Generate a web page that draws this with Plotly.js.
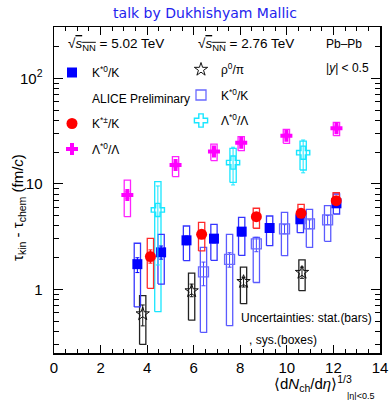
<!DOCTYPE html>
<html>
<head>
<meta charset="utf-8">
<script src="https://cdn.plot.ly/plotly-3.0.1.min.js"></script>
<style>
  html, body { margin: 0; padding: 0; background: #fff; }
  #chart { width: 392px; height: 400px; }
</style>
</head>
<body>
<div id="chart"></div>
<script>
// K*0/K, Pb-Pb 5.02 TeV (filled squares)
const kst0X502 = [3.58, 4.60, 5.69, 6.87, 8.06, 9.26, 10.58, 12.13];
const kst0Y502 = [1.73, 2.24, 2.91, 3.02, 3.52, 3.81, 4.61, 6.53];
const kst0StatHi502 = [1.99, 2.57, 3.20, 3.30, 3.85, 4.15, 5.00, 7.00];
const kst0StatLo502 = [1.44, 1.93, 2.64, 2.75, 3.20, 3.50, 4.25, 6.10];
const kst0SysHi502 = [2.73, 3.32, 3.98, 4.13, 4.80, 4.95, 5.44, 8.00];
const kst0SysLo502 = [0.68, 1.12, 1.87, 1.88, 2.10, 2.59, 3.44, 5.17];

// K*±/K, Pb-Pb 5.02 TeV (filled circles)
const kstChX502 = [4.14, 6.34, 8.69, 10.61, 12.12];
const kstChY502 = [2.04, 3.32, 4.88, 5.25, 6.92];
const kstChStatHi502 = [2.36, 3.60, 5.20, 5.60, 7.35];
const kstChStatLo502 = [1.77, 3.05, 4.55, 4.90, 6.50];
const kstChSysHi502 = [3.04, 4.31, 5.86, 6.39, 8.22];
const kstChSysLo502 = [1.02, 2.31, 3.79, 4.22, 5.98];

// Λ*0/Λ, Pb-Pb 5.02 TeV (filled crosses)
const lamX502 = [3.15, 5.22, 6.87, 8.04, 9.98, 12.13];
const lamY502 = [7.83, 15.1, 20.2, 24.5, 28.6, 33.6];
const lamStatHi502 = [8.4, 16.0, 21.3, 25.8, 30.0, 35.3];
const lamStatLo502 = [7.3, 14.2, 19.1, 23.2, 27.2, 31.9];
const lamSysHi502 = [10.85, 18.1, 23.8, 28.0, 32.8, 38.2];
const lamSysLo502 = [4.88, 11.7, 16.6, 20.6, 24.2, 28.6];

// ρ0/π, Pb-Pb 2.76 TeV (open stars)
const rhoX276 = [3.81, 5.91, 8.14, 10.65];
const rhoY276 = [0.583, 0.964, 1.18, 1.44];
const rhoStatHi276 = [0.71, 1.12, 1.30, 1.62];
const rhoStatLo276 = [0.45, 0.85, 1.05, 1.27];
const rhoSysHi276 = [0.87, 1.42, 1.62, 1.90];
const rhoSysLo276 = [0.30, 0.51, 0.73, 0.97];

// K*0/K, Pb-Pb 2.76 TeV (open squares)
const kst0X276 = [6.42, 7.54, 8.69, 9.90, 10.97, 11.75];
const kst0Y276 = [1.46, 1.92, 2.69, 3.73, 4.16, 4.54];
const kst0StatHi276 = [1.81, 2.22, 3.11, 4.10, 4.55, 5.00];
const kst0StatLo276 = [1.08, 1.62, 2.27, 3.35, 3.75, 4.10];
const kst0SysHi276 = [2.50, 3.32, 3.11, 5.36, 5.72, 6.20];
const kst0SysLo276 = [0.391, 0.452, 1.16, 2.08, 2.50, 2.85];

// Λ*0/Λ, Pb-Pb 2.76 TeV (open crosses)
const lamX276 = [4.46, 7.69, 10.70];
const lamY276 = [5.65, 15.9, 19.7];
const lamStatHi276 = [9.53, 22.2, 26.0];
const lamStatLo276 = [1.70, 9.75, 12.7];
const lamSysHi276 = [10.5, 21.7, 25.4];
const lamSysLo276 = [0.613, 10.3, 13.5];

// axis ticks
const xTickVals = [0, 2, 4, 6, 8, 10, 12, 14];
const yTickVals = [1, 10, 100];
const yTickText = ['1', '10', '10<sup>2</sup>'];
const yMinorVals = [0.3, 0.4, 0.5, 0.6, 0.7, 0.8, 0.9,
                    2, 3, 4, 5, 6, 7, 8, 9,
                    20, 30, 40, 50, 60, 70, 80, 90, 200, 300];

const BOX_HALF = 0.135;   // half width of the systematic boxes, in x units
const FONT = 'Liberation Sans, Arial, sans-serif';

// outline rectangles for systematic uncertainties, one path per point
function sysBoxes(xs, lo, hi, color, width, legend) {
  const bx = [], by = [];
  xs.forEach((x, i) => {
    bx.push(x - BOX_HALF, x + BOX_HALF, x + BOX_HALF, x - BOX_HALF, x - BOX_HALF, null);
    by.push(lo[i], lo[i], hi[i], hi[i], lo[i], null);
  });
  return {
    type: 'scatter', mode: 'lines', x: bx, y: by,
    line: { color: color, width: width || 1.3 },
    hoverinfo: 'skip', showlegend: false, legend: legend
  };
}

function points(name, xs, ys, statHi, statLo, marker, errColor, legend, group) {
  return {
    type: 'scatter', mode: 'markers', name: name, x: xs, y: ys,
    marker: marker,
    error_y: {
      type: 'data', symmetric: false,
      array: ys.map((y, i) => statHi[i] - y),
      arrayminus: ys.map((y, i) => y - statLo[i]),
      color: errColor, thickness: 1, width: 2
    },
    legend: legend, legendgroup: group, cliponaxis: false
  };
}

const traces = [
  sysBoxes(rhoX276, rhoSysLo276, rhoSysHi276, '#222222', 1.3, 'legend2'),
  sysBoxes(kst0X276, kst0SysLo276, kst0SysHi276, '#5a5aff', 1.3, 'legend2'),
  sysBoxes(lamX276, lamSysLo276, lamSysHi276, '#19e6ff', 1.3, 'legend2'),
  sysBoxes(kst0X502, kst0SysLo502, kst0SysHi502, '#3535ff', 1.3, 'legend'),
  sysBoxes(kstChX502, kstChSysLo502, kstChSysHi502, '#ff2a2a', 1.3, 'legend'),
  sysBoxes(lamX502, lamSysLo502, lamSysHi502, '#ff22ff', 1.3, 'legend'),

  points('K<sup>*0</sup>/K', kst0X502, kst0Y502, kst0StatHi502, kst0StatLo502,
         { symbol: 'square', size: 10, color: '#0000ff', line: { width: 0 } },
         '#0000ff', 'legend', 'a'),
  { type: 'scatter', mode: 'markers', name: 'ALICE Preliminary', x: [null], y: [null],
    marker: { size: 0, color: 'rgba(0,0,0,0)', line: { width: 0 } },
    legend: 'legend', legendgroup: 'b', hoverinfo: 'skip' },
  points('K<sup>*±</sup>/K', kstChX502, kstChY502, kstChStatHi502, kstChStatLo502,
         { symbol: 'circle', size: 11, color: '#ff0000', line: { width: 0 } },
         '#ff0000', 'legend', 'c'),
  points('Λ<sup>*0</sup>/Λ', lamX502, lamY502, lamStatHi502, lamStatLo502,
         { symbol: 'cross', size: 10, color: '#ff00ff', line: { width: 0 } },
         '#ff00ff', 'legend', 'd'),

  points('ρ<sup>0</sup>/π', rhoX276, rhoY276, rhoStatHi276, rhoStatLo276,
         { symbol: 'star-open', size: 10, color: '#111111', line: { width: 1 } },
         '#111111', 'legend2', 'e'),
  points('K<sup>*0</sup>/K', kst0X276, kst0Y276, kst0StatHi276, kst0StatLo276,
         { symbol: 'square-open', size: 10, color: '#6a6aff', line: { width: 1.3 } },
         '#4444ff', 'legend2', 'f'),
  points('Λ<sup>*0</sup>/Λ', lamX276, lamY276, lamStatHi276, lamStatLo276,
         { symbol: 'cross-open', size: 11, color: '#19e6ff', line: { width: 1.4 } },
         '#19e6ff', 'legend2', 'g')
];

// plot-area geometry used to place the free text
const L = 54, T = 27, PW = 326, PH = 326;
const px = p => (p - L) / PW;
const py = p => (T + PH - p) / PH;

function note(text, x, y, opts) {
  return Object.assign({
    xref: 'paper', yref: 'paper', x: px(x), y: py(y),
    xanchor: 'left', yanchor: 'middle', showarrow: false, text: text,
    font: { family: FONT, size: 12, color: '#000' }
  }, opts || {});
}

const legendCommon = {
  xref: 'paper', yref: 'paper', xanchor: 'left', yanchor: 'top',
  bgcolor: 'rgba(0,0,0,0)', borderwidth: 0,
  font: { family: FONT, size: 12, color: '#000' },
  traceorder: 'grouped', tracegroupgap: 6.5, itemwidth: 30
};

const sqrtS = '√<span style="text-decoration:overline"><i>s</i><sub>NN</sub></span>';
const headFont = { family: FONT, size: 13.5, color: '#000' };

const layout = {
  width: 392, height: 400,
  margin: { l: L, r: 392 - L - PW, t: T, b: 400 - T - PH, pad: 0 },
  paper_bgcolor: '#fff', plot_bgcolor: '#fff',
  title: {
    text: 'talk by Dukhishyam Mallic',
    font: { family: 'DejaVu Sans, sans-serif', size: 14, color: '#2323ee' },
    xref: 'container', yref: 'container', x: 205 / 392, y: 1 - 13 / 400,
    xanchor: 'center', yanchor: 'middle'
  },
  xaxis: {
    range: [0, 14], tickmode: 'array', tickvals: xTickVals,
    ticks: 'inside', ticklen: 8, tickwidth: 1, tickcolor: '#000',
    minor: { dtick: 0.5, tick0: 0, ticks: 'inside', ticklen: 4, tickwidth: 1, tickcolor: '#000', showgrid: false },
    showline: true, linecolor: '#000', linewidth: 1.5, mirror: 'ticks',
    showgrid: false, zeroline: false, ticklabelstandoff: 0,
    tickfont: { family: FONT, size: 15, color: '#000' }
  },
  yaxis: {
    type: 'log', range: [-0.604, 2.486],
    tickmode: 'array', tickvals: yTickVals, ticktext: yTickText,
    ticks: 'inside', ticklen: 9, tickwidth: 1, tickcolor: '#000',
    minor: { tickmode: 'array', tickvals: yMinorVals, ticks: 'inside', ticklen: 5, tickwidth: 1, tickcolor: '#000', showgrid: false },
    showline: true, linecolor: '#000', linewidth: 1.5, mirror: 'ticks',
    showgrid: false, zeroline: false, ticklabelstandoff: 7,
    tickfont: { family: FONT, size: 15, color: '#000' }
  },
  legend: Object.assign({}, legendCommon, { x: px(52), y: py(58) }),
  legend2: Object.assign({}, legendCommon, { x: px(181), y: py(55) }),
  annotations: [
    note(sqrtS + ' = 5.02 TeV', 66, 44, { font: headFont }),
    note(sqrtS + ' = 2.76 TeV', 196, 44, { font: headFont }),
    note('Pb–Pb', 324, 43.5),
    note('|<i>y</i>| &lt; 0.5', 324, 68),
    note('Uncertainties: stat.(bars)', 239, 317.5),
    note(', sys.(boxes)', 247, 340),
    note('⟨d<i>N</i><sub>ch</sub>/d<i>η</i>⟩<sup>1/3</sup>', 272, 383,
         { font: { family: FONT, size: 15, color: '#000' } }),
    note('|η|&lt;0.5', 345, 396, { font: { family: FONT, size: 9, color: '#000' } }),
    note('τ<sub>kin</sub> - τ<sub>chem</sub> (fm/<i>c</i>)', 18, 208,
         { textangle: -90, xanchor: 'center', font: { family: FONT, size: 15, color: '#000' } })
  ],
  showlegend: true
};

Plotly.newPlot('chart', traces, layout, { displayModeBar: false, staticPlot: true });
</script>
</body>
</html>
